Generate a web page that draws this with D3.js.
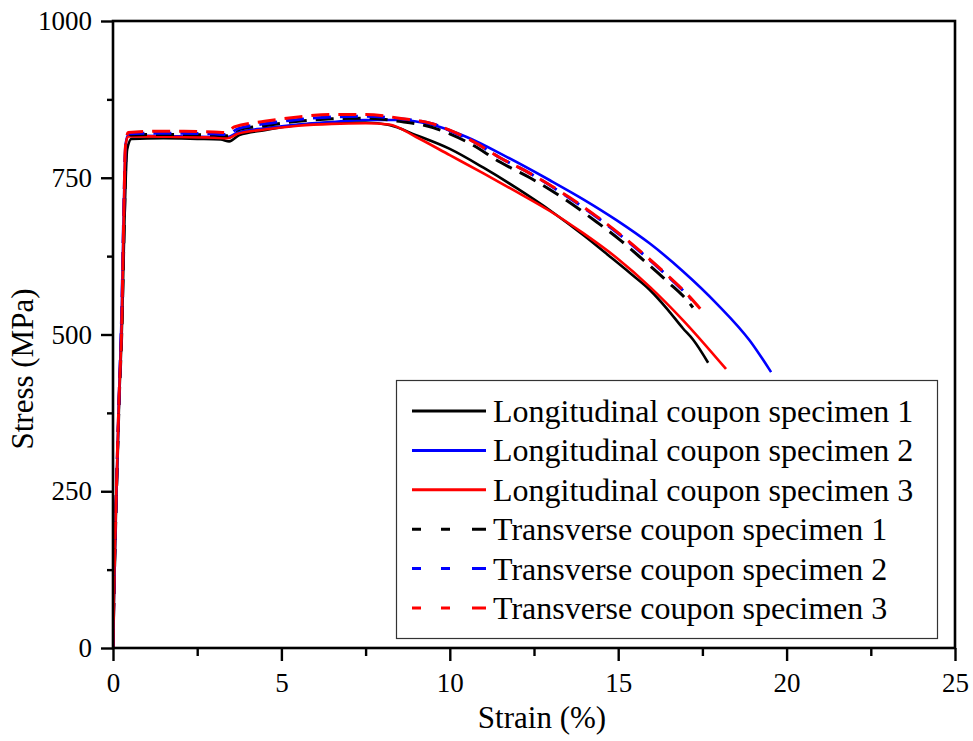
<!DOCTYPE html>
<html>
<head>
<meta charset="utf-8">
<script src="https://cdn.jsdelivr.net/npm/d3@7"></script>
<style>
  html, body { margin: 0; padding: 0; background: #fff; }
  svg { display: block; }
</style>
</head>
<body>
<svg id="chart" width="973" height="741"></svg>
<script>
// Stress–strain curves of the coupon tests (strain in %, stress in MPa)
const strainL1 = [0, 0.04, 0.1, 0.18, 0.27, 0.34, 0.42, 0.55, 1.5, 2.5, 3.2, 3.45, 3.75, 4.5, 5.5, 6.5, 7.5, 8.2, 9, 10, 11, 12, 13, 14, 14.76, 15.35, 15.94, 16.45, 16.92, 17.22, 17.67];
const stressL1 = [0, 110, 240, 390, 520, 680, 795, 812, 813, 812, 811, 808, 818, 826, 834, 838, 838, 834, 818, 796, 766, 733, 697, 657, 624, 598, 571, 541, 510, 492, 455];

const strainL2 = [0, 0.04, 0.1, 0.18, 0.26, 0.32, 0.38, 0.45, 1, 2, 3, 3.4, 3.7, 4.5, 5.5, 6.5, 7.5, 8.5, 9.5, 10.5, 11.7, 12.97, 13.95, 14.96, 15.94, 16.92, 17.93, 18.91, 19.54];
const stressL2 = [0, 125, 250, 400, 540, 700, 805, 818, 817, 816, 815, 815, 822, 829, 835, 839, 842, 842, 834, 815, 783, 746, 716, 682, 645, 601, 549, 490, 440];

const strainL3 = [0, 0.04, 0.1, 0.18, 0.26, 0.32, 0.37, 0.45, 1, 2, 3, 3.4, 3.7, 4.5, 5.5, 6.5, 7.5, 8.2, 9, 10, 11, 12, 12.97, 13.95, 14.96, 15.94, 16.92, 18.2];
const stressL3 = [0, 125, 250, 400, 520, 690, 800, 816, 816, 815, 814, 813, 820, 827, 833, 836, 837, 835, 815, 786, 757, 727, 697, 662, 622, 576, 523, 445];

const strainT1 = [0, 0.04, 0.1, 0.18, 0.27, 0.34, 0.4, 0.5, 1, 2, 3, 3.4, 3.7, 4.5, 5.5, 6.5, 7.5, 8.5, 9.5, 10, 10.69, 11.49, 12.38, 13.57, 14.37, 15.05, 15.74, 16.45, 17.07, 17.22];
const stressT1 = [0, 110, 240, 390, 520, 690, 800, 818, 819, 819, 818, 817, 826, 833, 840, 844, 845, 840, 830, 820, 802, 775, 750, 710, 679, 651, 619, 585, 553, 543];

const strainT2 = [0, 0.04, 0.1, 0.18, 0.26, 0.32, 0.38, 0.45, 1, 2, 3, 3.4, 3.7, 4.5, 5.5, 6.5, 7.5, 8.5, 9.5, 10, 10.69, 11.49, 12.38, 13.57, 14.37, 15.05, 15.74, 16.45, 17.07, 17.19];
const stressT2 = [0, 125, 250, 400, 540, 700, 805, 820, 821, 821, 820, 819, 828, 836, 843, 847, 848, 844, 836, 825, 808, 782, 757, 717, 687, 659, 628, 594, 562, 555];

const strainT3 = [0, 0.04, 0.1, 0.18, 0.26, 0.32, 0.37, 0.45, 1, 2, 3, 3.35, 3.6, 4.5, 5.5, 6.5, 7.5, 8.5, 9.5, 10, 10.69, 11.49, 12.38, 13.57, 14.37, 15.05, 15.74, 16.45, 17.07, 17.55];
const stressT3 = [0, 125, 250, 400, 520, 690, 800, 822, 824, 824, 823, 822, 831, 840, 847, 851, 851, 845, 836, 826, 808, 782, 757, 718, 688, 660, 629, 595, 563, 534];

const seriesNames = [
  "Longitudinal coupon specimen 1",
  "Longitudinal coupon specimen 2",
  "Longitudinal coupon specimen 3",
  "Transverse coupon specimen 1",
  "Transverse coupon specimen 2",
  "Transverse coupon specimen 3"
];
const seriesColors = ["#000000", "#0000ff", "#ff0000", "#000000", "#0000ff", "#ff0000"];
const seriesDashed = [false, false, false, true, true, true];

const xTicks = [0, 5, 10, 15, 20, 25];
const xMinorTicks = [2.5, 7.5, 12.5, 17.5, 22.5];
const yTicks = [0, 250, 500, 750, 1000];
const yMinorTicks = [125, 375, 625, 875];
const xTitle = "Strain (%)";
const yTitle = "Stress (MPa)";

const serif = "'Liberation Serif', 'Times New Roman', serif";

const curves = [
  [strainL1, stressL1], [strainL2, stressL2], [strainL3, stressL3],
  [strainT1, stressT1], [strainT2, stressT2], [strainT3, stressT3]
].map(([xs, ys], i) => ({
  name: seriesNames[i],
  color: seriesColors[i],
  dashed: seriesDashed[i],
  points: xs.map((v, j) => ({ x: v, y: ys[j] }))
}));

const svg = d3.select("#chart").attr("font-family", serif);
const plotLeft = 113, plotRight = 955, plotTop = 21, plotBottom = 648;

const x = d3.scaleLinear().domain([0, 25]).range([plotLeft, plotRight]);
const y = d3.scaleLinear().domain([0, 1000]).range([plotBottom, plotTop]);

// curves
const line = d3.line()
  .x(d => x(d.x))
  .y(d => y(d.y))
  .curve(d3.curveMonotoneX);

svg.append("defs").append("clipPath").attr("id", "plotClip")
  .append("rect").attr("x", plotLeft).attr("y", plotTop)
  .attr("width", plotRight - plotLeft).attr("height", plotBottom - plotTop);

const plot = svg.append("g").attr("clip-path", "url(#plotClip)");
plot.selectAll("path.curve")
  .data(curves)
  .join("path")
  .attr("class", "curve")
  .attr("fill", "none")
  .attr("stroke", d => d.color)
  .attr("stroke-width", d => d.dashed ? 3 : 2.6)
  .attr("stroke-dasharray", d => d.dashed ? "18,9" : null)
  .attr("stroke-linejoin", "round")
  .attr("d", d => line(d.points));

// frame
svg.append("rect")
  .attr("x", plotLeft).attr("y", plotTop)
  .attr("width", plotRight - plotLeft).attr("height", plotBottom - plotTop)
  .attr("fill", "none").attr("stroke", "#000").attr("stroke-width", 2.6);

// x axis
svg.append("g").attr("transform", `translate(0,${plotBottom})`)
  .call(d3.axisBottom(x).tickValues(xTicks).tickSize(13).tickPadding(12).tickFormat(d3.format("d")));
svg.append("g").attr("transform", `translate(0,${plotBottom})`)
  .call(d3.axisBottom(x).tickValues(xMinorTicks).tickSize(8).tickFormat(""));

// y axis
svg.append("g").attr("transform", `translate(${plotLeft},0)`)
  .call(d3.axisLeft(y).tickValues(yTicks).tickSize(12).tickPadding(9).tickFormat(d3.format("d")));
svg.append("g").attr("transform", `translate(${plotLeft},0)`)
  .call(d3.axisLeft(y).tickValues(yMinorTicks).tickSize(6).tickFormat(""));

svg.selectAll(".domain").remove();
svg.selectAll(".tick line").attr("stroke", "#000").attr("stroke-width", 2.4);
svg.selectAll(".tick text")
  .attr("font-size", 27)
  .attr("fill", "#000");

// axis titles
svg.append("text")
  .attr("x", (plotLeft + plotRight) / 2 + 8).attr("y", 728)
  .attr("text-anchor", "middle")
  .attr("font-size", 31)
  .text(xTitle);

svg.append("text")
  .attr("transform", `translate(33,369) rotate(-90)`)
  .attr("text-anchor", "middle")
  .attr("font-size", 31)
  .text(yTitle);

// legend
const legend = svg.append("g");
legend.append("rect")
  .attr("x", 396.5).attr("y", 380.5)
  .attr("width", 541).attr("height", 258)
  .attr("fill", "#fff").attr("stroke", "#333").attr("stroke-width", 1.2);

const rowY = i => 411 + i * 39.4;
const rows = legend.selectAll("g.row").data(curves).join("g").attr("class", "row");
rows.append("line")
  .attr("x1", 412).attr("x2", 486)
  .attr("y1", (d, i) => rowY(i)).attr("y2", (d, i) => rowY(i))
  .attr("stroke", d => d.color)
  .attr("stroke-width", 3)
  .attr("stroke-dasharray", d => d.dashed ? "9,20,9,22,14" : null);
rows.append("text")
  .attr("x", 493).attr("y", (d, i) => rowY(i) + 11)
  .attr("font-size", 32)
  .text(d => d.name);

// every label in the serif face
svg.selectAll("text")
  .attr("font-family", serif)
  .style("font-family", serif)
  .attr("fill", "#000");
</script>
</body>
</html>
